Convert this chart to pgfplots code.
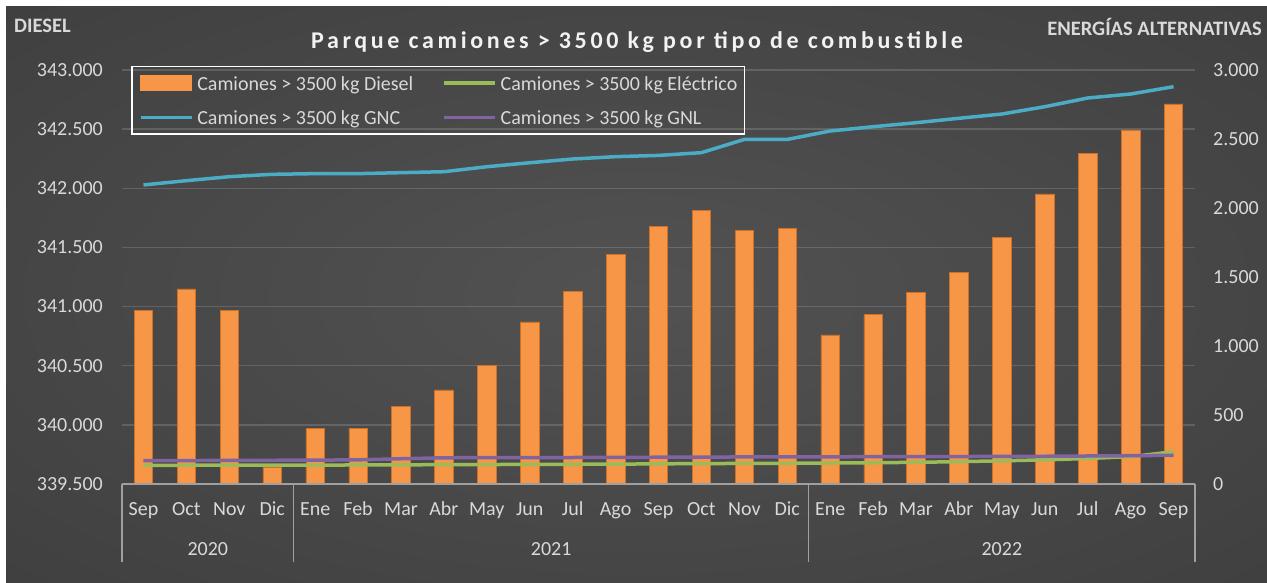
\documentclass[border=0pt]{standalone}
\usepackage{fontspec}
\setmainfont{Carlito}
\newfontfamily\titlefont[LetterSpace=15.2]{Carlito}
\usepackage{pgfplots}
\pgfplotsset{compat=1.18}
\usepackage{pgfplotstable}

\definecolor{lbl}{RGB}{217,217,217}
\definecolor{barorange}{RGB}{247,150,70}
\definecolor{baredge}{RGB}{205,112,40}
\definecolor{gnc}{RGB}{75,172,198}
\definecolor{elec}{RGB}{155,187,89}
\definecolor{gnl}{RGB}{128,100,162}
\definecolor{axgray}{RGB}{160,160,160}
\definecolor{bgin}{RGB}{82,82,82}
\definecolor{bgmid}{RGB}{52,52,52}
\definecolor{bgout}{RGB}{36,36,36}

\pgfdeclareradialshading{bgshade}{\pgfpoint{0bp}{0bp}}{color(0bp)=(bgin); color(35bp)=(bgmid!60!bgin); color(50bp)=(bgmid); color(71bp)=(bgout)}

\pgfplotstableread{
i m diesel elec gnc gnl
0 Sep 340971 135 2167 169
1 Oct 341149 136 2198 170
2 Nov 340966 136 2227 171
3 Dic 339638 137 2244 172
4 Ene 339971 137 2249 173
5 Feb 339971 138 2249 175
6 Mar 340159 139 2256 183
7 Abr 340295 140 2263 190
8 May 340500 141 2299 191
9 Jun 340870 142 2328 192
10 Jul 341126 143 2355 192
11 Ago 341442 144 2372 193
12 Sep 341675 146 2381 194
13 Oct 341816 148 2401 195
14 Nov 341642 149 2497 196
15 Dic 341659 150 2497 197
16 Ene 340760 152 2558 197
17 Feb 340931 154 2589 198
18 Mar 341117 157 2618 198
19 Abr 341286 162 2650 199
20 May 341582 168 2681 200
21 Jun 341952 175 2734 201
22 Jul 342296 185 2797 203
23 Ago 342493 198 2826 205
24 Sep 342713 234 2879 208
}\data

\begin{document}
\begin{tikzpicture}[x=1pt,y=1pt]
\fill[white] (0,0) rectangle (1267,582);
\shade[shading=bgshade] (6,0) rectangle (1267,575);
\node[anchor=west, text=lbl, font=\bfseries\fontsize{20.5}{24}\selectfont, inner sep=0pt] at (14,556) {DIESEL};
\node[anchor=east, text=lbl, font=\bfseries\fontsize{20.5}{24}\selectfont, inner sep=0pt] at (1262,555) {ENERGÍAS ALTERNATIVAS};
\node[text={rgb,255:red,242;green,242;blue,242}, font=\titlefont\bfseries\fontsize{24}{28}\selectfont, inner sep=0pt] at (637,540) {Parque camiones > 3500 kg por tipo de combustible};

\begin{axis}[
  at={(122pt,98pt)}, anchor=south west,
  scale only axis, width=1073pt, height=414pt,
  xmin=-0.5, xmax=24.5, ymin=0, ymax=3500,
  clip mode=individual,
  axis line style={draw=none},
  major tick length=0pt, tick style={draw=none},
  xtick={0,...,24},
  xticklabels={Sep,Oct,Nov,Dic,Ene,Feb,Mar,Abr,May,Jun,Jul,Ago,Sep,Oct,Nov,Dic,Ene,Feb,Mar,Abr,May,Jun,Jul,Ago,Sep},
  ytick={0,500,...,3500},
  yticklabels={339.500,340.000,340.500,341.000,341.500,342.000,342.500,343.000},
  tick label style={font=\fontsize{20}{24}\selectfont, text=lbl},
  xticklabel style={anchor=base, inner sep=0pt, yshift=-31pt},
  yticklabel style={anchor=east, inner sep=0pt, xshift=-19pt},
  ymajorgrids,
  grid style={white, opacity=0.15, line width=1.5pt},
]
\addplot[ybar, bar width=18.5pt, fill=barorange, draw=baredge, line width=0.6pt]
  table[x=i, y expr=\thisrow{diesel}-339500]{\data};
\draw[axgray, line width=1.2pt] (rel axis cs:0,0) -- (rel axis cs:1,0);
\draw[axgray, line width=1.2pt] (rel axis cs:0,0) -- ++(0pt,-78pt);
\draw[axgray, line width=1.2pt] (rel axis cs:0.16,0) -- ++(0pt,-78pt);
\draw[axgray, line width=1.2pt] (rel axis cs:0.64,0) -- ++(0pt,-78pt);
\draw[axgray, line width=1.2pt] (rel axis cs:1,0) -- ++(0pt,-78pt);
\path (rel axis cs:0.08,0) ++(0pt,-71pt) node[anchor=base, text=lbl, font=\fontsize{20}{24}\selectfont] {2020};
\path (rel axis cs:0.40,0) ++(0pt,-71pt) node[anchor=base, text=lbl, font=\fontsize{20}{24}\selectfont] {2021};
\path (rel axis cs:0.82,0) ++(0pt,-71pt) node[anchor=base, text=lbl, font=\fontsize{20}{24}\selectfont] {2022};
\end{axis}

\begin{axis}[
  at={(122pt,98pt)}, anchor=south west,
  scale only axis, width=1073pt, height=414pt,
  xmin=-0.5, xmax=24.5, ymin=0, ymax=3000,
  axis line style={draw=none},
  major tick length=0pt, tick style={draw=none},
  xtick=\empty,
  ytick={0,500,...,3000},
  yticklabels={0,500,1.000,1.500,2.000,2.500,3.000},
  yticklabel pos=right,
  tick label style={font=\fontsize{20}{24}\selectfont, text=lbl},
  yticklabel style={anchor=west, inner sep=0pt, xshift=18pt},
  legend columns=2,
  legend cell align=left,
  legend image code/.code={\draw[#1] (0pt,1pt) -- (51pt,1pt);},
  legend style={at={(0.0084,1.0097)}, anchor=north west,
    draw=white, line width=1.5pt, fill=none, text=lbl,
    font=\fontsize{20}{24}\selectfont,
    inner xsep=7pt, inner ysep=8pt, row sep=19pt, column sep=4pt,
    /tikz/every odd column/.append style={column sep=4pt},
    /tikz/every even column/.append style={column sep=29pt},
    nodes={inner sep=0pt}},
]
\addlegendimage{legend image code/.code={\fill[barorange] (0pt,-6.5pt) rectangle (51pt,8.5pt);}}
\addlegendentry{Camiones > 3500 kg Diesel}
\addplot[elec, line width=3.5pt, line join=round] table[x=i, y=elec]{\data};
\addlegendentry{Camiones > 3500 kg Eléctrico}
\addplot[gnc, line width=3.5pt, line join=round] table[x=i, y=gnc]{\data};
\addlegendentry{Camiones > 3500 kg GNC}
\addplot[gnl, line width=3.5pt, line join=round] table[x=i, y=gnl]{\data};
\addlegendentry{Camiones > 3500 kg GNL}
\end{axis}
\end{tikzpicture}
\end{document}
